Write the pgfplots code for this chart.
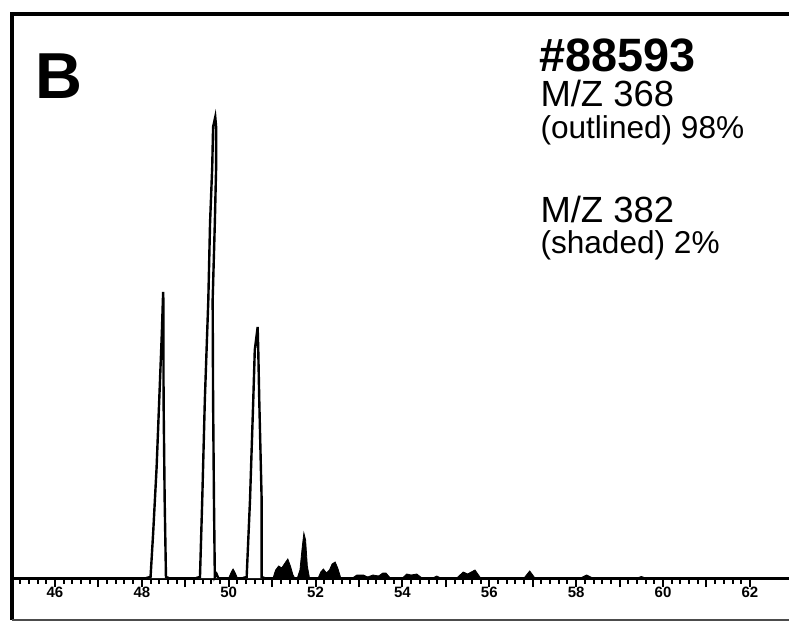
\documentclass[border=0pt]{standalone}
\usepackage{fontspec}
\setmainfont{Liberation Sans}
\usepackage{pgfplots}
\pgfplotsset{compat=1.18}
\begin{document}
\begin{tikzpicture}
\begin{axis}[
  scale only axis, width=388.5pt, height=303pt,
  xmin=45.01, xmax=62.9, ymin=-42, ymax=564,
  axis x line*=middle, axis y line=none, clip=false,
  xtick={45,46,...,62},
  xticklabels={,46,,48,,50,,52,,54,,56,,58,,60,,62},
  minor x tick num=4,
  tick align=outside,
  major tick length=4.5pt, minor tick length=2.8pt,
  x axis line style={line width=1.5pt},
  every tick/.style={black, line width=1pt},
  xticklabel style={font=\fontsize{7.5}{8}\selectfont\bfseries, inner sep=0pt, anchor=north, yshift=0pt},
]
% outlined peaks (m/z 368)
\addplot[black, line width=1.2pt, fill=white] coordinates {(48.10,0)(48.20,1)(48.26,45)(48.34,111)(48.40,178)(48.46,245)(48.49,286)(48.495,278)(48.50,178)(48.525,78)(48.555,1)(48.62,0)};
\addplot[black, line width=1.2pt, fill=white] coordinates {(49.25,0)(49.338,1)(49.39,78)(49.45,178)(49.53,278)(49.57,355)(49.62,411)(49.64,451)(49.69,461)(49.71,451)(49.71,411)(49.68,355)(49.63,278)(49.64,178)(49.66,78)(49.68,1)(49.72,4)(49.76,0)};
\addplot[black, line width=1.2pt, fill=white] coordinates {(50.33,0)(50.413,1)(50.49,78)(50.565,178)(50.60,228)(50.666,251)(50.68,228)(50.703,178)(50.758,78)(50.758,1)(50.82,0)};
% shaded peaks (m/z 382)
\addplot[black, fill=black] coordinates {(50.00,0)(50.06,6)(50.10,9)(50.14,6)(50.20,0)};
\addplot[black, fill=black] coordinates {(51.02,0)(51.08,8)(51.15,12)(51.22,10)(51.28,14)(51.36,19)(51.42,12)(51.48,3)(51.52,0)};
\addplot[black, fill=black] coordinates {(51.58,0)(51.64,8)(51.69,30)(51.73,45)(51.77,38)(51.81,12)(51.86,0)};
\addplot[black, fill=black] coordinates {(52.06,0)(52.12,6)(52.18,9)(52.25,5)(52.32,8)(52.38,14)(52.45,16)(52.51,10)(52.58,0)};
\addplot[black, fill=black] coordinates {(52.85,0)(52.95,3)(53.10,3)(53.20,1)(53.32,3)(53.45,2)(53.55,5)(53.62,5)(53.72,0)};
\addplot[black, fill=black] coordinates {(54.00,0)(54.10,4)(54.20,3)(54.33,4)(54.45,0)};
\addplot[black, fill=black] coordinates {(54.70,0)(54.79,2)(54.88,0)};
\addplot[black, fill=black] coordinates {(55.25,0)(55.40,6)(55.50,4)(55.67,8)(55.80,0)};
\addplot[black, fill=black] coordinates {(56.80,0)(56.93,7)(57.05,0)};
\addplot[black, fill=black] coordinates {(58.10,0)(58.24,3)(58.38,0)};
\addplot[black, fill=black] coordinates {(59.40,0)(59.50,1.5)(59.60,0)};
% frame
\draw[line width=2pt] (rel axis cs:1,1) -- (rel axis cs:0,1) -- (rel axis cs:0,0);
\draw[line width=1.2pt, black!70] (rel axis cs:0,0) -- (rel axis cs:1,0);
\coordinate (ll) at (rel axis cs:0,0);
\coordinate (ur) at (rel axis cs:1,1);
% texts
\node[anchor=base west, inner sep=0pt, font=\fontsize{32.5}{33}\selectfont\bfseries] at (axis cs:45.55,479.7) {B};
\node[anchor=base west, inner sep=0pt, font=\fontsize{23.4}{24}\selectfont\bfseries] at (axis cs:57.15,506.3) {\#88593};
\node[anchor=base west, inner sep=0pt, font=\fontsize{18.2}{19}\selectfont] at (axis cs:57.17,471.3) {M/Z 368};
\node[anchor=base west, inner sep=0pt, font=\fontsize{15.8}{17}\selectfont] at (axis cs:57.17,439) {(outlined) 98\%};
\node[anchor=base west, inner sep=0pt, font=\fontsize{18.2}{19}\selectfont] at (axis cs:57.17,355.7) {M/Z 382};
\node[anchor=base west, inner sep=0pt, font=\fontsize{15.8}{17}\selectfont] at (axis cs:57.17,324.7) {(shaded) 2\%};
\end{axis}
\pgfresetboundingbox
\path ([xshift=-6pt,yshift=-1.5pt]ll) rectangle ([yshift=7pt]ur);
\end{tikzpicture}
\end{document}
